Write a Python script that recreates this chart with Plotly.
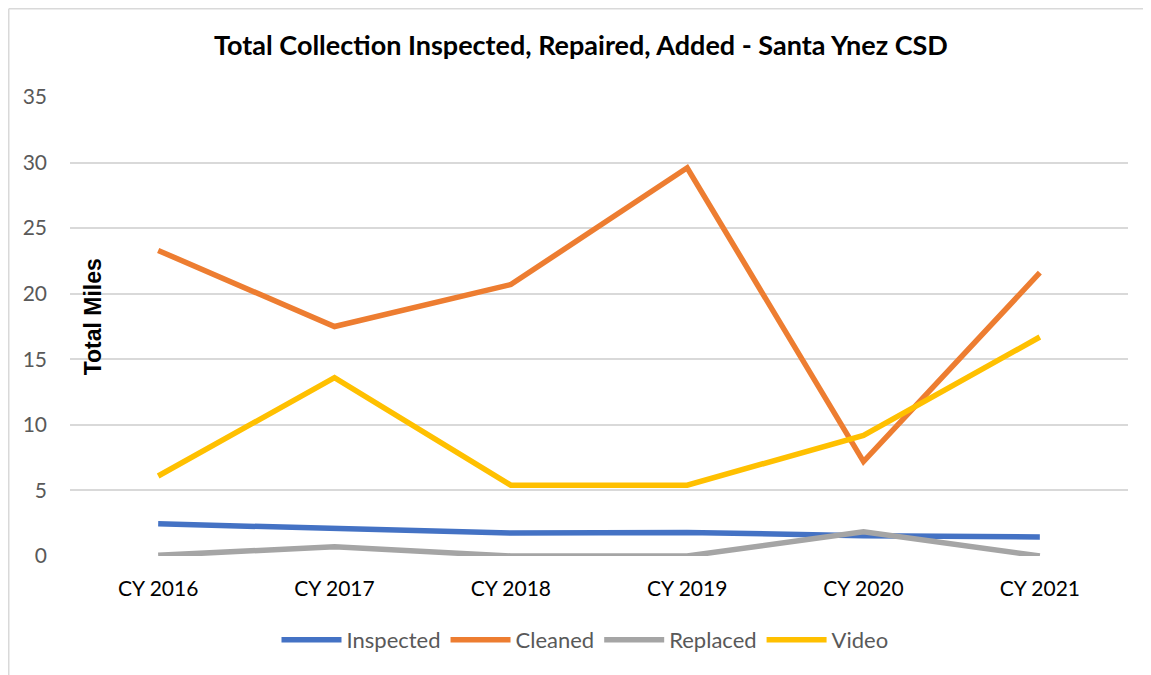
import plotly.graph_objects as go

categories = ["CY 2016", "CY 2017", "CY 2018", "CY 2019", "CY 2020", "CY 2021"]
inspected = [2.45, 2.1, 1.75, 1.8, 1.55, 1.45]
cleaned = [23.3, 17.5, 20.7, 29.6, 7.2, 21.6]
replaced = [0.05, 0.7, 0.0, 0.0, 1.85, 0.0]
video = [6.1, 13.6, 5.4, 5.4, 9.2, 16.7]
y_ticks = [0, 5, 10, 15, 20, 25, 30, 35]

series = [
    ("Inspected", inspected, "#4472C4"),
    ("Cleaned", cleaned, "#ED7D31"),
    ("Replaced", replaced, "#A5A5A5"),
    ("Video", video, "#FFC000"),
]

# page body has an 8px margin; figure is sized so the picture lands where the reference has it
W, H = 1143, 667
L, R, T, B = 62, 23, 89, 119
PW, PH = W - L - R, H - T - B

fig = go.Figure()
for name, vals, color in series:
    fig.add_trace(go.Scatter(
        x=categories, y=vals, name=name, mode="lines",
        line=dict(color=color, width=5.5),
    ))

fig.update_layout(
    width=W, height=H,
    paper_bgcolor="white", plot_bgcolor="white",
    margin=dict(l=L, r=R, t=T, b=B),
    font=dict(family="Lato, Open Sans, sans-serif", color="#595959", size=17),
    title=dict(
        text="<b>Total Collection Inspected, Repaired, Added - Santa Ynez CSD</b>",
        x=(581 - 70) / PW, xref="paper", xanchor="center",
        y=1 - 38 / H, yref="container", yanchor="middle",
        font=dict(size=27, color="black", family="Lato, Open Sans, sans-serif"),
    ),
    xaxis=dict(
        range=[-0.5, 5.5],
        showgrid=False, showline=False, zeroline=False,
        ticks="", ticklabelstandoff=18,
        tickfont=dict(size=21, color="black"),
    ),
    yaxis=dict(
        range=[0, 35], tickvals=y_ticks,
        showgrid=True, gridcolor="#D9D9D9", gridwidth=1.5,
        zeroline=False, showline=False, ticks="",
        ticklabelstandoff=22,
        tickfont=dict(size=21, color="#595959"),
    ),
    legend=dict(
        orientation="h", x=(585 - 70) / PW, xanchor="center", y=-0.183, yanchor="middle",
        font=dict(size=22, color="#595959"),
        itemwidth=60,
    ),
    showlegend=True,
)

fig.add_annotation(
    text="<b>Total Miles</b>", xref="paper", yref="paper",
    x=23 / PW, y=0.52, xanchor="center", yanchor="middle",
    textangle=-90, showarrow=False,
    font=dict(size=23, color="black", family="Liberation Sans, Arial, sans-serif"),
)

# chart-area frame: only top and left edges are visible in the reference
top_y = 1 + (T - 0.75) / PH
left_x = (0.75 - L) / PW
fig.add_shape(type="line", xref="paper", yref="paper",
              x0=left_x, x1=(W - L) / PW, y0=top_y, y1=top_y,
              line=dict(color="#D9D9D9", width=1.5), layer="below")
fig.add_shape(type="line", xref="paper", yref="paper",
              x0=left_x, x1=left_x, y0=top_y, y1=-B / PH,
              line=dict(color="#D9D9D9", width=1.5), layer="below")

fig.write_html("out.html")
